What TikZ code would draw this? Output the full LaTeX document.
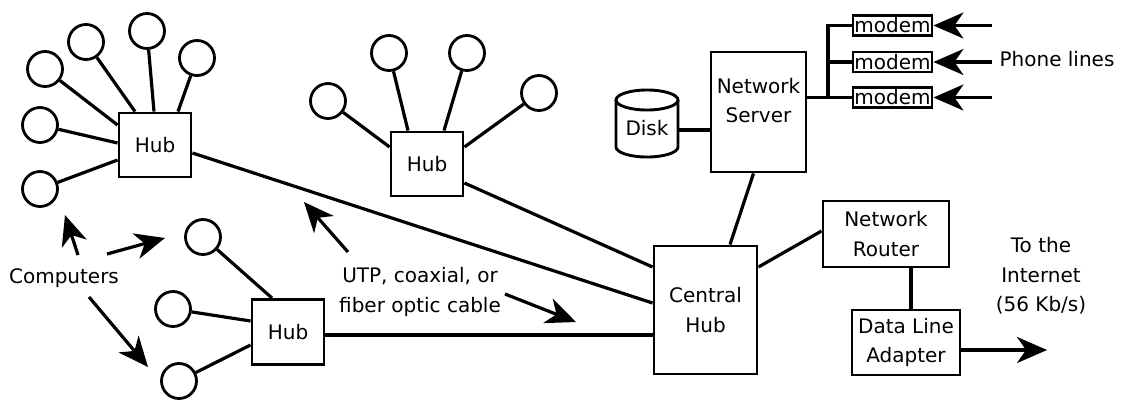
\documentclass[tikz,border=0pt]{standalone}
\usepackage{fontspec}
\setmainfont{DejaVu Sans}
\usetikzlibrary{arrows.meta,calc}
\begin{document}
\begin{tikzpicture}[x=1pt,y=-1pt,
  every node/.style={font=\fontsize{20}{29.5}\selectfont},
  box/.style={draw, line width=2.9pt, inner sep=0pt, align=center},
  pc/.style={draw, circle, line width=2.8pt, minimum size=35pt, inner sep=0pt},
  wire/.style={line width=3.2pt},
  big/.style={-{Stealth[length=30pt,width=26pt,inset=9pt]}, line width=3.2pt},
  lbl/.style={align=center, inner sep=0pt}
]
\useasboundingbox (0,0) rectangle (1134,400);

% ---------- hubs ----------
\node[box, minimum width=72, minimum height=64] (hubA) at (155,145) {Hub};
\node[box, minimum width=72, minimum height=64] (hubB) at (427,164) {Hub};
\node[box, minimum width=72, minimum height=65] (hubC) at (288,332) {Hub};
\node[box, minimum width=103, minimum height=128] (central) at (705.5,310) {Central\\Hub};
\node[box, minimum width=95, minimum height=120] (server) at (758.5,112) {};
\node[lbl] (servertxt) at (758.5,100.5) {Network\\Server};
\node[box, minimum width=126, minimum height=66] (router) at (886,234) {Network\\Router};
\node[box, minimum width=108, minimum height=65] (adapter) at (906,342.5) {Data Line\\Adapter};

% ---------- computers ----------
\node[pc] (a1) at (147,31) {};
\node[pc] (a2) at (86,42) {};
\node[pc] (a3) at (45,69) {};
\node[pc] (a4) at (40,125) {};
\node[pc] (a5) at (40,189) {};
\node[pc] (a6) at (197,58) {};
\node[pc] (b1) at (328,101) {};
\node[pc] (b2) at (389,53) {};
\node[pc] (b3) at (467,53) {};
\node[pc] (b4) at (539,93) {};
\node[pc] (c1) at (203,237) {};
\node[pc] (c2) at (173,309) {};
\node[pc] (c3) at (179,381) {};

\draw[wire] (a1) -- ([xshift=-1]hubA.north);
\draw[wire] (a2) -- ([xshift=-20]hubA.north);
\draw[wire] (a6) -- ([xshift=23]hubA.north);
\draw[wire] (a3) -- ([yshift=20]hubA.west);
\draw[wire] (a4) -- ([yshift=2]hubA.west);
\draw[wire] (a5) -- ([yshift=-15]hubA.west);

\draw[wire] (b1) -- ([yshift=17]hubB.west);
\draw[wire] (b2) -- ([xshift=-19]hubB.north);
\draw[wire] (b3) -- ([xshift=17]hubB.north);
\draw[wire] (b4) -- ([yshift=17]hubB.east);

\draw[wire] (c1) -- ([xshift=-16]hubC.north);
\draw[wire] (c2) -- ([yshift=11]hubC.west);
\draw[wire] (c3) -- ([yshift=-13]hubC.west);

% ---------- backbone ----------
\draw[wire] ([yshift=-8]hubA.east) -- ([yshift=7]central.west);
\draw[wire] ([yshift=-19]hubB.east) -- ([yshift=43]central.west);
\draw[wire] ([yshift=-3]hubC.east) -- ([yshift=-3]hubC.east -| central.west);
\draw[wire] ([xshift=-5]server.south) -- ([xshift=24.5]central.north);
\draw[wire] ([yshift=43]central.east) -- ([yshift=3]router.west);
\draw[wire] ([xshift=5]adapter.north) -- ([xshift=5]adapter.north |- router.south);
\coordinate (inet) at (1047,350);
\draw[big] ([yshift=-7.5]adapter.east) -- (inet);

% ---------- disk ----------
\draw[line width=2.9pt] (616,100) -- (616,147)
  arc[start angle=180, end angle=360, x radius=31pt, y radius=10pt] -- (678,100);
\draw[line width=2.9pt] (647,100) ellipse[x radius=31pt, y radius=10pt];
\node[lbl] (disk) at (647,128) {Disk};
\coordinate (diskR) at (679,130);
\draw[wire] (diskR) -- (diskR -| server.west);

% ---------- modems ----------
\node[box, minimum width=79, minimum height=20] (m1) at (892.5,25.5) {modem};
\node[box, minimum width=79, minimum height=20] (m2) at (892.5,62) {modem};
\node[box, minimum width=79, minimum height=20] (m3) at (892.5,97.5) {modem};
\coordinate (bus) at (828,97.5);
\draw[wire] ([yshift=14.5]server.east) -- (m3.west);
\draw[wire] (m1.west) -| (bus);
\draw[wire] (m2.west) -- (m2.west -| bus);
\coordinate (p1) at (992,25.5);
\coordinate (p2) at (992,62);
\coordinate (p3) at (992,97.5);
\draw[big] (p1) -- (m1.east);
\draw[big] (p2) -- (m2.east);
\draw[big] (p3) -- (m3.east);
\node[lbl, anchor=base] (phone) at (1057,66) {Phone lines};

% ---------- labels ----------
\node[lbl, anchor=base] (comp) at (64,283) {Computers};
\coordinate (k1) at (78,255);
\coordinate (k1t) at (65,215);
\coordinate (k2) at (107,254);
\coordinate (k2t) at (165,238);
\coordinate (k3) at (89,297);
\coordinate (k3t) at (148,367);
\draw[big] (k1) -- (k1t);
\draw[big] (k2) -- (k2t);
\draw[big] (k3) -- (k3t);

\node[lbl] (cable) at (420,292) {UTP, coaxial, or\\fiber optic cable};
\coordinate (u1) at (348,252);
\coordinate (u1t) at (304,202);
\coordinate (u2) at (505,294);
\coordinate (u2t) at (576,322);
\draw[big] (u1) -- (u1t);
\draw[big] (u2) -- (u2t);

\node[lbl] (inettxt) at (1041,276) {To the\\Internet\\(56 Kb/s)};
\end{tikzpicture}
\end{document}
